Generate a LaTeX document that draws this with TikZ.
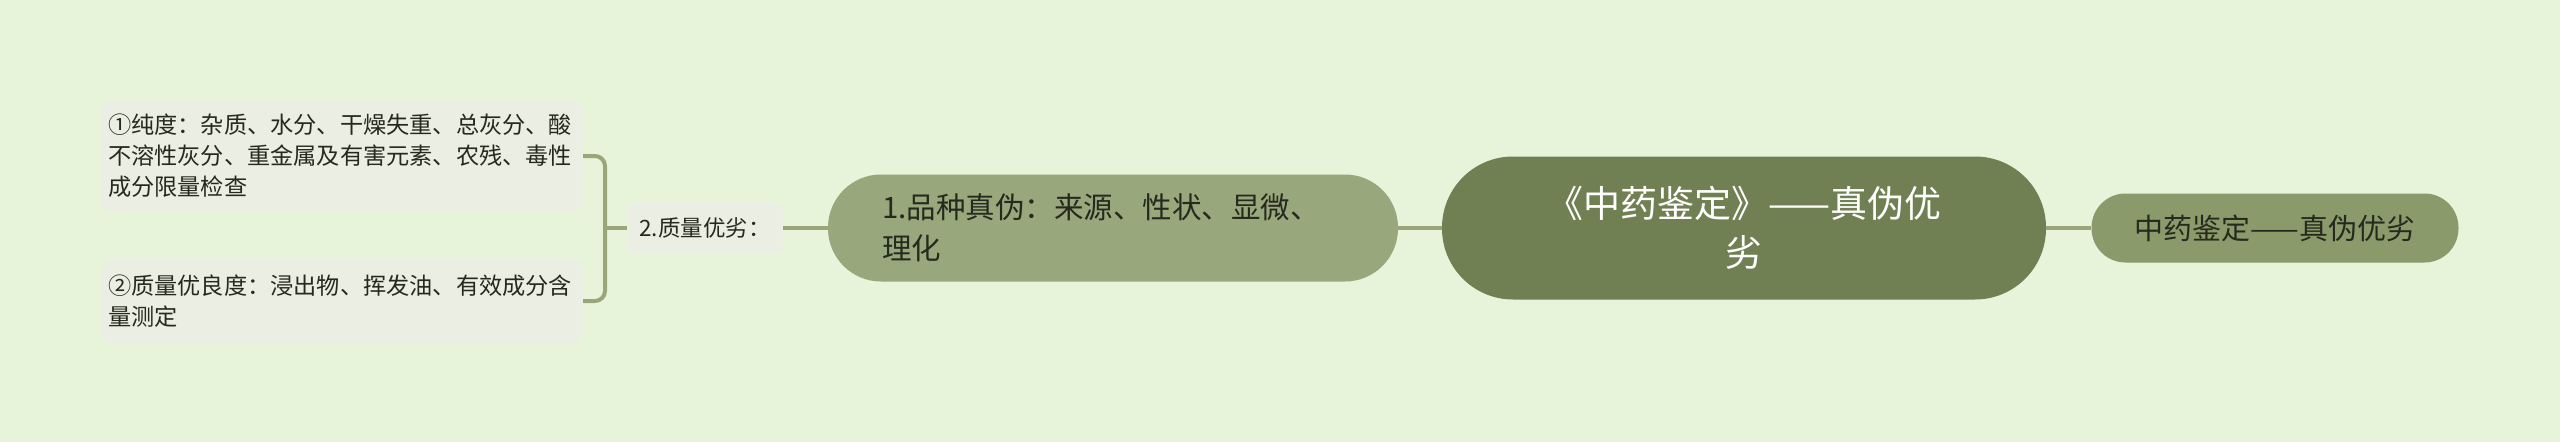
\documentclass[tikz,border=0pt]{standalone}
\usepackage{fontspec}
\setmainfont{Noto Sans CJK SC}
\definecolor{bgcol}{HTML}{E7F4DA}
\definecolor{rootcol}{HTML}{718052}
\definecolor{kindcol}{HTML}{99A77C}
\definecolor{subcol}{HTML}{8A9A6B}
\definecolor{leafcol}{HTML}{EBEEE3}
\definecolor{linkcol}{HTML}{98A67A}
\definecolor{inkcol}{HTML}{262A1E}
\tikzset{
  link/.style={draw=linkcol, line width=4pt},
  rootbox/.style={fill=rootcol, rounded corners=71pt, minimum width=604pt, minimum height=143pt,
    text=white, align=center, font=\fontsize{37}{49}\selectfont},
  subbox/.style={fill=subcol, rounded corners=34pt, minimum width=367pt, minimum height=69pt,
    text=inkcol, font=\fontsize{29}{36}\selectfont},
  kindbox/.style={fill=kindcol, rounded corners=53pt, minimum height=107pt, inner xsep=54pt,
    text width=462pt, align=left, text=inkcol, font=\fontsize{29.5}{41}\selectfont},
  midbox/.style={fill=leafcol, rounded corners=9pt, minimum width=156pt, minimum height=52pt,
    text=inkcol, font=\fontsize{22.5}{31}\selectfont},
  leafbox/.style={fill=leafcol, rounded corners=10pt, inner xsep=7pt, text width=468pt,
    align=left, text=inkcol, font=\fontsize{23.2}{31}\selectfont}
}
\begin{document}
\begin{tikzpicture}[x=1pt, y=-1pt]
  \fill[bgcol] (0,0) rectangle (2560,442);
  \useasboundingbox (0,0) rectangle (2560,442);
  % centre and right
  \node[rootbox] (root) at (1744,228) {《中药鉴定》——真伪优\\劣};
  \node[subbox] (sub) at (2275,228) {中药鉴定——真伪优劣};
  % left branch
  \node[kindbox] (kind) at (1113,228) {1.品种真伪：来源、性状、显微、\\理化};
  \node[midbox] (quality) at (705,228) {2.质量优劣：};
  \node[leafbox, minimum height=111pt] (pure) at (342,156)
    {①纯度：杂质、水分、干燥失重、总灰分、酸\\不溶性灰分、重金属及有害元素、农残、毒性\\成分限量检查};
  \node[leafbox, minimum height=85pt] (grade) at (342,301)
    {②质量优良度：浸出物、挥发油、有效成分含\\量测定};
  \coordinate (brace) at (605,228);
  \draw[link] (root.east) -- (sub.west);
  \draw[link] (root.west) -- (kind.east);
  \draw[link] (kind.west) -- (quality.east);
  \draw[link] (quality.west) -- (brace);
  \draw[link, rounded corners=10pt] (pure.east) -| (brace) |- (grade.east);
\end{tikzpicture}
\end{document}
